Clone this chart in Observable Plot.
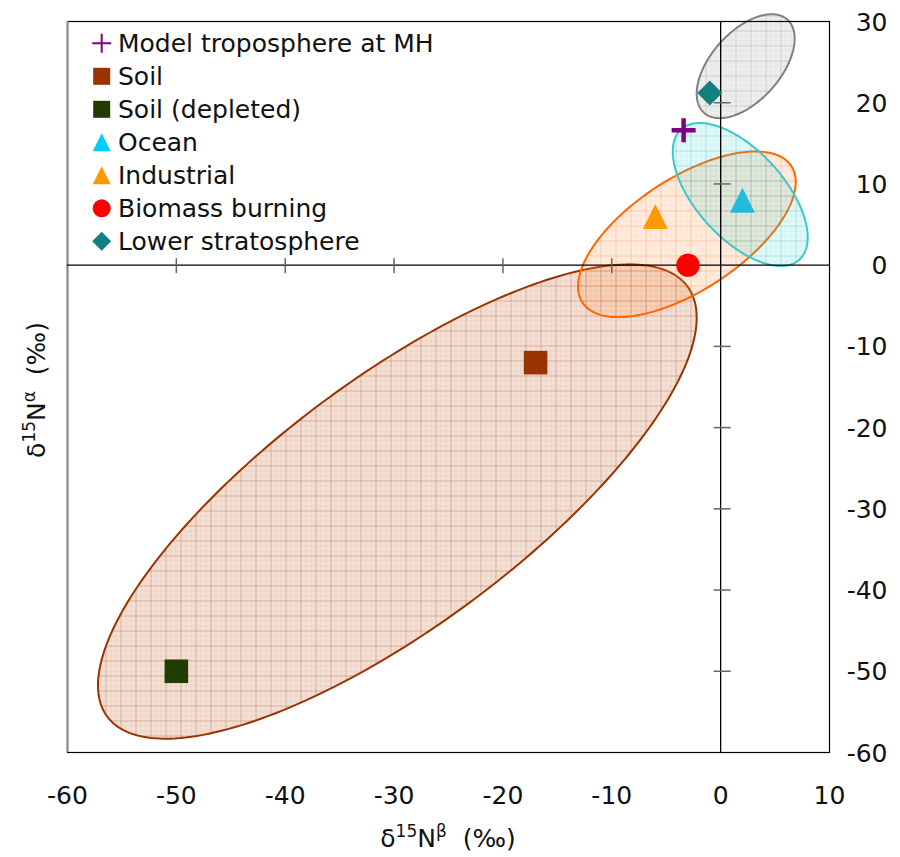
<!DOCTYPE html>
<html><head><meta charset="utf-8">
<script src="https://cdn.jsdelivr.net/npm/d3@7"></script>
<script src="https://cdn.jsdelivr.net/npm/@observablehq/plot@0.6"></script>
<style>
body{margin:0;background:#fff;font-family:"DejaVu Sans",Verdana,sans-serif}
#chart{position:relative;width:900px;height:857px}
</style>
</head><body><div id="chart"></div>
<script>
// ---- data ----
const sourceNames = ["Model troposphere at MH","Soil","Soil (depleted)","Ocean","Industrial","Biomass burning","Lower stratosphere"];
const sourceX = [-3.4, -17, -50, 2, -6, -3, -1];
const sourceY = [16.6, -12, -50, 8, 6, 0, 21.2];

// uncertainty ellipses: centre, half-extent in x and y, correlation
const ellipseNames = ["Soil","Industrial","Ocean","Lower stratosphere"];
const ellipseCX = [-29.7, -3.1, 1.8, 2.3];
const ellipseCY = [-29.1, 3.8, 8.7, 24.5];
const ellipseSX = [27.5, 10.0, 6.2, 4.5];
const ellipseSY = [29.2, 10.2, 8.8, 6.4];
const ellipseRho = [0.775, 0.63, -0.6, 0.53];

const xDomain = [-60, 10];
const yDomain = [-60, 30];
const xTicks = [-60,-50,-40,-30,-20,-10,0,10];
const xTickLabels = ["-60","-50","-40","-30","-20","-10","0","10"];
const yTicks = [30,20,10,0,-10,-20,-30,-40,-50,-60];
const yTickLabels = ["30","20","10","0","-10","-20","-30","-40","-50","-60"];
const xAxisTicks = [-50,-40,-30,-20,-10];
const yAxisTicks = [20,10,-10,-20,-30,-40,-50];

// ---- styles ----
const pointColors = ["#800080","#993300","#1F3D00","#22BBDA","#FF9900","#FF0000","#138080"];
const legendColors = ["#800080","#993300","#1F3D00","#00CCFF","#FF9900","#FF0000","#138080"];
const ellipseStroke = ["#993300","#FF6600","#3CC8C8","#808080"];
const ellipseBase = ["rgb(205,110,60)","#FF8C40","#33CCCC","#999999"];
const ellipseBaseOp = [0.22, 0.17, 0.15, 0.17];
const ellipseLine = ["#A0441A","#FF7A30","#2FB5B5","#8A8A8A"];

// custom symbols (r = half extent)
const half = size => Math.sqrt(size / Math.PI);
const symPlus = {draw(c, s){const r=half(s); c.moveTo(-r,0); c.lineTo(r,0); c.moveTo(0,-r); c.lineTo(0,r);}};
const symSquare = {draw(c, s){const r=half(s); c.rect(-r,-r,2*r,2*r);}};
const symTri = {draw(c, s){const r=half(s); c.moveTo(0,-r); c.lineTo(r,r); c.lineTo(-r,r); c.closePath();}};
const symCircle = {draw(c, s){const r=half(s); c.moveTo(r,0); c.arc(0,0,r,0,2*Math.PI);}};
const symDiamond = {draw(c, s){const r=half(s); c.moveTo(0,-r); c.lineTo(r,0); c.lineTo(0,r); c.lineTo(-r,0); c.closePath();}};
const symbols = [symPlus, symSquare, symSquare, symTri, symTri, symCircle, symDiamond];
const pointR = [12, 11.8, 11.8, 12.5, 12.5, 11.7, 12.5];
const legendR = [9.5, 8.5, 8.5, 9, 9, 9, 9.5];
const vTick = {draw(c){c.moveTo(0,-7); c.lineTo(0,8);}};
const hTick = {draw(c){c.moveTo(-7,0); c.lineTo(10,0);}};

// ellipse outlines from their parameters
const N = 240;
const ellipsePts = ellipseNames.map((name, i) => d3.range(N).map(k => {
  const t = 2 * Math.PI * k / N;
  const r = ellipseRho[i];
  return {name,
    x: ellipseCX[i] + ellipseSX[i] * Math.cos(t),
    y: ellipseCY[i] + ellipseSY[i] * (r * Math.cos(t) + Math.sqrt(1 - r * r) * Math.sin(t))};
}));

const marks = [];
ellipseNames.forEach((name, i) => {
  marks.push(Plot.line(ellipsePts[i], {x: "x", y: "y", curve: "linear-closed",
    fill: `url(#pat${i})`, stroke: ellipseStroke[i], strokeWidth: 2}));
});
marks.push(Plot.frame({stroke: "black", strokeWidth: 1.2}));
marks.push(Plot.ruleX([xDomain[0]], {stroke: "#888", strokeWidth: 2}));
marks.push(Plot.ruleY([0], {stroke: "black", strokeWidth: 1.3}));
marks.push(Plot.ruleX([0], {stroke: "black", strokeWidth: 1.3}));
marks.push(Plot.dot(xAxisTicks, {x: d => d, y: () => 0, symbol: vTick, r: 5, fill: "none", stroke: "#666", strokeWidth: 1.5}));
marks.push(Plot.dot(yAxisTicks, {x: () => 0, y: d => d, symbol: hTick, r: 5, fill: "none", stroke: "#666", strokeWidth: 1.5}));
sourceNames.forEach((name, i) => {
  const isPlus = i === 0;
  marks.push(Plot.dot([i], {x: j => sourceX[j], y: j => sourceY[j], symbol: symbols[i], r: pointR[i],
    fill: isPlus ? "none" : pointColors[i], stroke: isPlus ? pointColors[i] : "none", strokeWidth: isPlus ? 4.5 : 0}));
});
marks.push(Plot.text(xTicks, {x: d => d, text: (d, i) => xTickLabels[i], frameAnchor: "bottom", dy: 43, fontSize: 25, lineAnchor: "middle", fill: "#111"}));
marks.push(Plot.text(yTicks, {y: d => d, text: (d, i) => yTickLabels[i], frameAnchor: "right", dx: 58, dy: 1, textAnchor: "end", fontSize: 25, lineAnchor: "middle", fill: "#111"}));

const plot = Plot.plot({
  width: 900, height: 857,
  marginLeft: 67, marginRight: 71, marginTop: 21, marginBottom: 105,
  x: {domain: xDomain, axis: null},
  y: {domain: yDomain, axis: null},
  style: {fontFamily: "'DejaVu Sans', Verdana, sans-serif", background: "#fff", overflow: "visible"},
  marks
});
document.getElementById("chart").appendChild(plot);

// pattern fills
const svg = d3.select(plot);
const defs = svg.insert("defs", ":first-child");
ellipseNames.forEach((name, i) => {
  const p = defs.append("pattern").attr("id", `pat${i}`).attr("patternUnits", "userSpaceOnUse")
    .attr("width", 15).attr("height", 15);
  p.append("rect").attr("width", 15).attr("height", 15).attr("fill", ellipseBase[i]).attr("fill-opacity", ellipseBaseOp[i]);
  p.append("path").attr("d", "M0 5.5H15M0 10.5H15M5.5 0V15M10.5 0V15").attr("stroke", ellipseLine[i])
    .attr("stroke-opacity", 0.07).attr("stroke-width", 1).attr("fill", "none");
  p.append("path").attr("d", "M0 0.5H15M0.5 0V15").attr("stroke", ellipseLine[i])
    .attr("stroke-opacity", 0.3).attr("stroke-width", 1).attr("fill", "none");
});

// legend
const lg = svg.append("g").attr("font-family", "'DejaVu Sans', Verdana, sans-serif").attr("font-size", 25)
  .attr("text-anchor", "start");
sourceNames.forEach((name, i) => {
  const base = 52 + i * 33;
  const isPlus = i === 0;
  lg.append("path").attr("transform", `translate(101.7,${base - 8.7})`)
    .attr("d", d3.symbol().type(symbols[i]).size(Math.PI * legendR[i] * legendR[i])())
    .attr("fill", isPlus ? "none" : legendColors[i]).attr("stroke", isPlus ? legendColors[i] : "none")
    .attr("stroke-width", isPlus ? 2 : 0);
  lg.append("text").attr("x", 118).attr("y", base).attr("text-anchor", "start").attr("fill", "#111").text(name);
});

// axis titles
const tx = svg.append("text").attr("x", 448).attr("y", 847).attr("text-anchor", "middle")
  .attr("font-size", 25).attr("fill", "#111").style("white-space", "pre");
tx.append("tspan").text("δ");
tx.append("tspan").attr("font-size", 17).attr("dy", -10).text("15");
tx.append("tspan").attr("dy", 10).text("N");
tx.append("tspan").attr("font-size", 17).attr("dy", -10).text("β");
tx.append("tspan").attr("dy", 10).text("  (‰)");

const ty = svg.append("text").attr("transform", "translate(45,390) rotate(-90)").attr("text-anchor", "middle")
  .attr("font-size", 25).attr("fill", "#111").style("white-space", "pre");
ty.append("tspan").text("δ");
ty.append("tspan").attr("font-size", 17).attr("dy", -10).text("15");
ty.append("tspan").attr("dy", 10).text("N");
ty.append("tspan").attr("font-size", 17).attr("dy", -10).text("α");
ty.append("tspan").attr("dy", 10).text("  (‰)");
</script>
</body></html>
